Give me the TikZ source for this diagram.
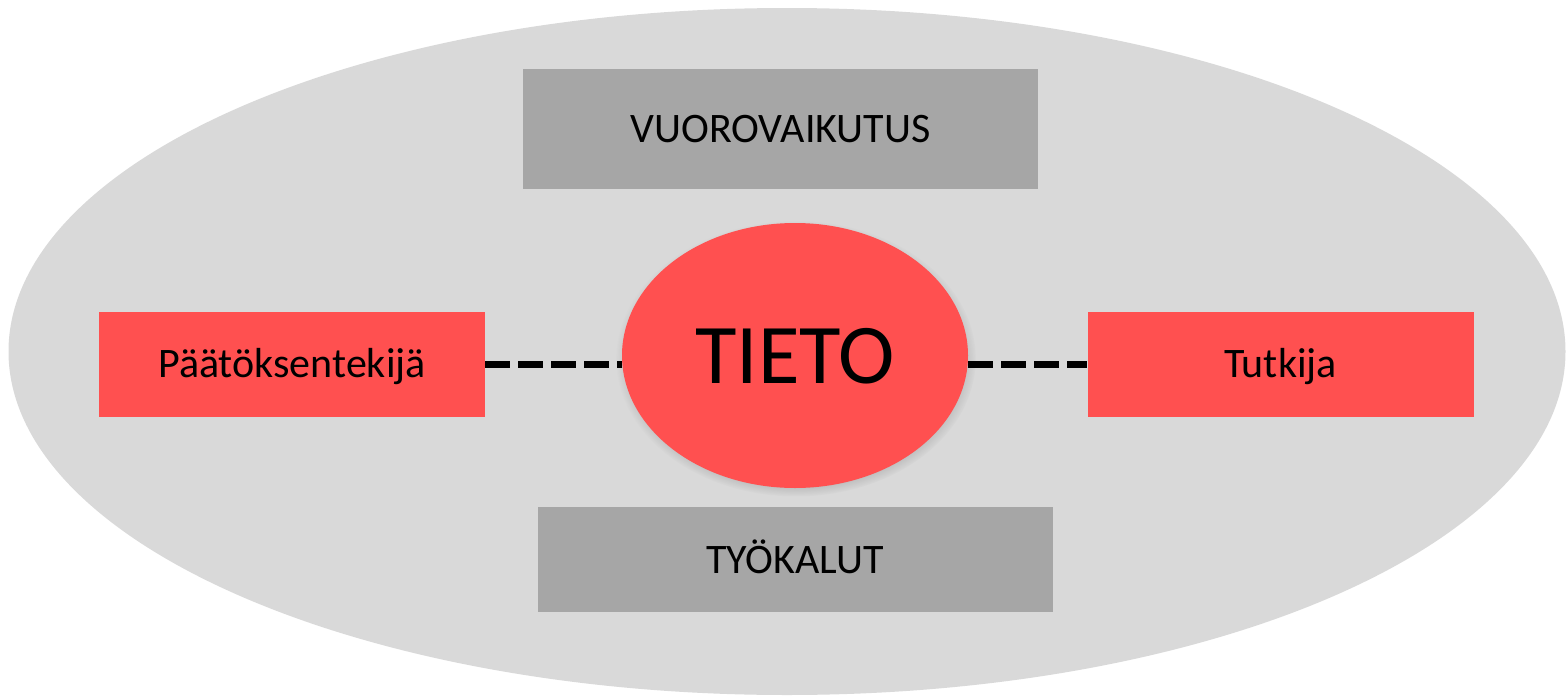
\documentclass[tikz,border=0pt]{standalone}
\usepackage{fontspec}
\setmainfont{Carlito}
\usetikzlibrary{positioning, shapes.geometric, shadows}
\definecolor{bgray}{HTML}{D9D9D9}
\definecolor{boxgray}{HTML}{A6A6A6}
\definecolor{tred}{HTML}{FF5050}

\begin{document}
\begin{tikzpicture}[x=1pt, y=-1pt,
    graybox/.style={fill=boxgray, inner sep=0pt, minimum width=515pt, font=\fontsize{42}{50}\selectfont, text height=27pt, text depth=0pt},
    redbox/.style={fill=tred, inner sep=0pt, minimum width=386pt, minimum height=105pt, font=\fontsize{42}{50}\selectfont, text height=27pt, text depth=0pt},
    link/.style={black, line width=7pt, dash pattern=on 25pt off 8pt}]
    \useasboundingbox (0,0) rectangle (1567,696);
    \fill[bgray] (787,351.5) ellipse (778.5pt and 343.5pt);

    % top and bottom boxes
    \node[graybox, minimum height=120pt] (vuoro) at (780.5,129) {VUOROVAIKUTUS};
    \node[graybox, minimum height=105pt] (tyo) at (795,559.5) {TYÖKALUT};

    % the two actors
    \node[redbox] (paattaja) at (292,364) {Päätöksentekijä};
    \node[redbox] (tutkija) at (1280.5,364) {Tutkija};

    \node[ellipse, fill=tred, inner sep=0pt, minimum width=346pt, minimum height=265pt,
        circular drop shadow={shadow xshift=1pt, shadow yshift=-3pt, shadow scale=1.04, opacity=0.6},
        font=\fontsize{85}{100}\selectfont, text height=55pt, text depth=0pt] (tieto) at (795,355.5) {TIETO};

    \draw[link] (paattaja.east |- 0,364) -- (tieto.west |- 0,364);
    \draw[link] (tieto.east |- 0,364) -- (tutkija.west |- 0,364);
\end{tikzpicture}
\end{document}
